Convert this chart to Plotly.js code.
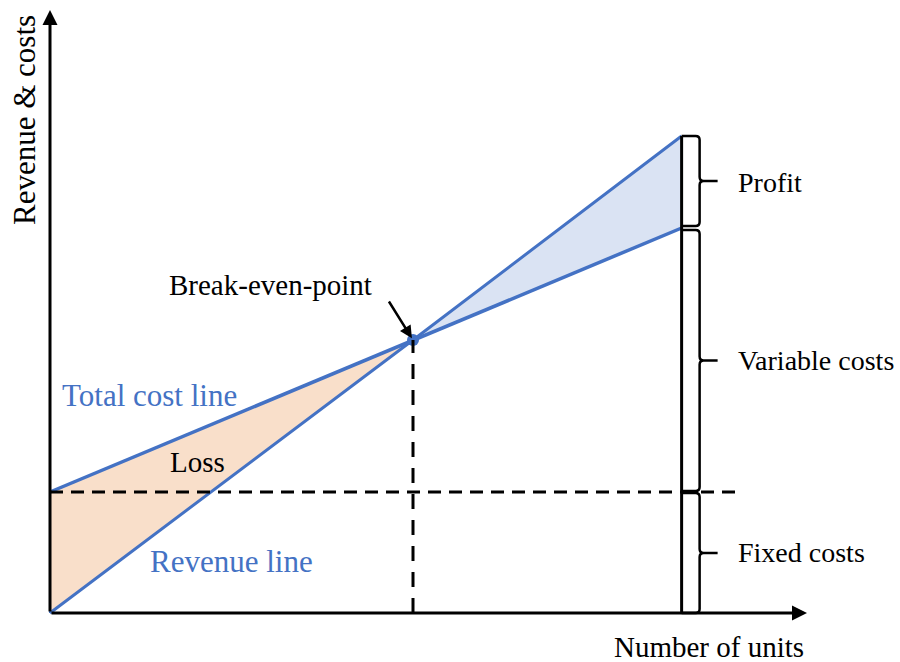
<!DOCTYPE html>
<html>
<head>
<meta charset="utf-8">
<script src="https://cdn.plot.ly/plotly-3.0.1.min.js"></script>
<style>html,body{margin:0;padding:0;background:#fff;}#chart{width:900px;height:662px;}</style>
</head>
<body>
<div id="chart"></div>
<script>
// ---- data (arbitrary units) ----
const units = [0, 100, 174];          // number of units: start, break-even, end
const revenue = [0, 273, 477];        // revenue line
const totalCost = [121, 273, 385];    // total cost line
const fixedCost = 121;                // fixed costs level
const segmentLabels = ["Profit", "Variable costs", "Fixed costs"];

// ---- pixel helpers for decoration placement ----
const X0 = 50, XS = 3.63, Y0 = 613, YS = 1;
const px2x = p => (p - X0) / XS;
const py2y = p => (Y0 - p) / YS;
const dx = p => p / XS;   // pixel offset -> x units
const dy = p => p / YS;

const blue = '#4472c4';
const FONT = 'Liberation Serif, Times New Roman, serif';
const FS = 29;
const FSS = 28;
const FSB = 31;

const traces = [
  { x: [units[0], units[0], units[1], units[0]], y: [revenue[0], totalCost[0], totalCost[1], revenue[0]],
    fill: 'toself', fillcolor: '#f9dfca', line: {width: 0}, mode: 'lines', hoverinfo: 'skip' },
  { x: [units[1], units[2], units[2], units[1]], y: [revenue[1], revenue[2], totalCost[2], revenue[1]],
    fill: 'toself', fillcolor: '#dae3f3', line: {width: 0}, mode: 'lines', hoverinfo: 'skip' },
  { x: [units[0], units[0]], y: [revenue[0], totalCost[0]], mode: 'lines', line: {color: blue, width: 2} },
  { x: units, y: totalCost, mode: 'lines', line: {color: blue, width: 3.5} },
  { x: units, y: revenue, mode: 'lines', line: {color: blue, width: 3} },
  { x: [units[1]], y: [revenue[1]], mode: 'markers', marker: {color: blue, size: 12} }
];

const xEnd = units[2];
function brace(top, bot) {
  const x0 = xEnd, x1 = xEnd + dx(18), x2 = xEnd + dx(36);
  const r = dx(4), ry = dy(4);
  const mid = (top + bot) / 2;
  return `M${x0},${top} L${x1 - r},${top} Q${x1},${top} ${x1},${top - ry} L${x1},${mid + ry} Q${x1},${mid} ${x1 + r},${mid} L${x2},${mid} ` +
         `M${x1 + r},${mid} Q${x1},${mid} ${x1},${mid - ry} L${x1},${bot + ry} Q${x1},${bot} ${x1 - r},${bot} L${x0},${bot}`;
}

const shapes = [
  { type: 'line', x0: units[0], x1: px2x(740), y0: fixedCost, y1: fixedCost,
    line: {color: 'black', width: 3, dash: '13px,8px'} },
  { type: 'line', x0: units[1], x1: units[1], y0: 0, y1: revenue[1],
    line: {color: 'black', width: 3, dash: '15px,11px'} },
  { type: 'line', x0: xEnd, x1: xEnd, y0: 0, y1: revenue[2], line: {color: 'black', width: 3} },
  { type: 'path', path: brace(revenue[2], totalCost[2] + dy(2)), line: {color: 'black', width: 2.5} },
  { type: 'path', path: brace(totalCost[2] - dy(2), fixedCost + dy(1)), line: {color: 'black', width: 2.5} },
  { type: 'path', path: brace(fixedCost - dy(1), 0), line: {color: 'black', width: 2.5} }
];

const tfont = {family: FONT, size: FS, color: 'black'};
const sfont = {family: FONT, size: FSS, color: 'black'};
const bfont = {family: FONT, size: FSB, color: blue};
const annotations = [
  // axes
  { x: px2x(807), y: 0, ax: 0, ay: 0, axref: 'x', ayref: 'y', xref: 'x', yref: 'y', text: '',
    showarrow: true, arrowhead: 2, arrowsize: 1, arrowwidth: 3, arrowcolor: 'black' },
  { x: 0, y: py2y(10), ax: 0, ay: 0, axref: 'x', ayref: 'y', xref: 'x', yref: 'y', text: '',
    showarrow: true, arrowhead: 2, arrowsize: 1, arrowwidth: 3, arrowcolor: 'black' },
  // break-even arrow
  { x: units[1], y: revenue[1], ax: -25, ay: -40, text: '', showarrow: true, arrowhead: 2,
    arrowsize: 1, arrowwidth: 2.5, arrowcolor: 'black', standoff: 2 },
  { x: px2x(270), y: py2y(285), text: 'Break-even-point', showarrow: false, font: tfont },
  // segment labels
  { x: px2x(736), y: (revenue[2] + totalCost[2]) / 2, text: segmentLabels[0], showarrow: false, xanchor: 'left', font: sfont },
  { x: px2x(736), y: (totalCost[2] + fixedCost) / 2, text: segmentLabels[1], showarrow: false, xanchor: 'left', font: sfont },
  { x: px2x(736), y: fixedCost / 2, text: segmentLabels[2], showarrow: false, xanchor: 'left', font: sfont },
  // line labels
  { x: px2x(60), y: py2y(395), text: 'Total cost line', showarrow: false, xanchor: 'left', font: bfont },
  { x: px2x(148), y: py2y(561), text: 'Revenue line', showarrow: false, xanchor: 'left', font: bfont },
  { x: px2x(197), y: py2y(462), text: 'Loss', showarrow: false, font: tfont },
  // axis titles
  { x: px2x(709), y: py2y(647), text: 'Number of units', showarrow: false, font: tfont },
  { x: px2x(24), y: py2y(120), text: 'Revenue &amp; costs', textangle: -90, showarrow: false, font: {family: FONT, size: FSB, color: 'black'} }
];

const layout = {
  width: 900, height: 662,
  margin: {l: 0, r: 0, t: 0, b: 0},
  paper_bgcolor: 'white', plot_bgcolor: 'white',
  showlegend: false,
  xaxis: {range: [px2x(0), px2x(900)], visible: false, fixedrange: true},
  yaxis: {range: [py2y(662), py2y(0)], visible: false, fixedrange: true},
  shapes: shapes,
  annotations: annotations
};

Plotly.newPlot('chart', traces, layout, {staticPlot: true, displayModeBar: false});
</script>
</body>
</html>
